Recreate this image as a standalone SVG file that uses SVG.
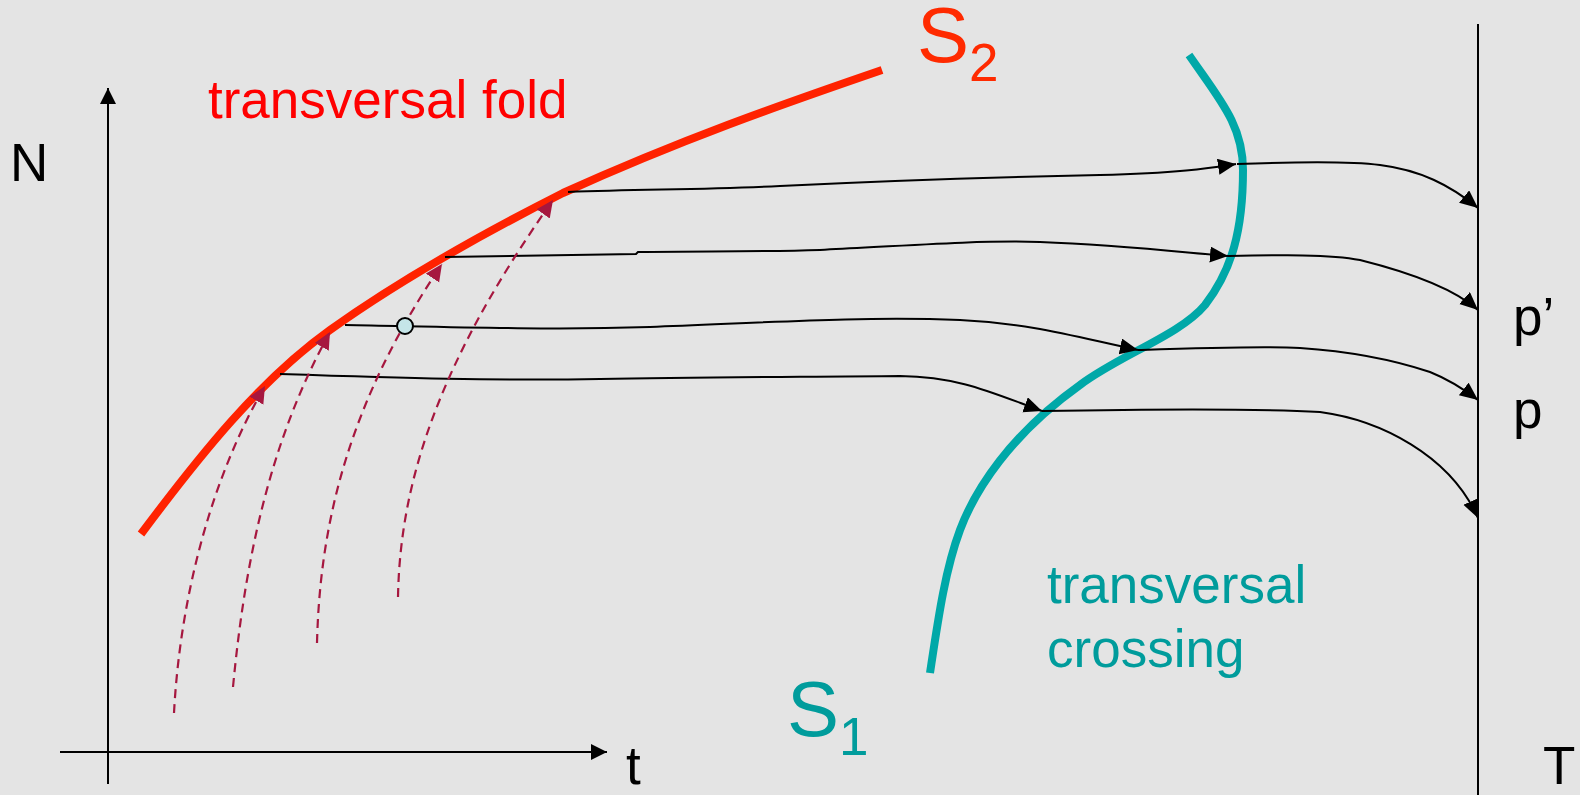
<svg xmlns="http://www.w3.org/2000/svg" width="1580" height="795" viewBox="0 0 1580 795">
<style>
.lbl{font-family:"Liberation Sans",Arial,sans-serif;font-size:53px}
.big{font-size:78px}
.sub{font-size:53px}
.blk{fill:#000}
.red{fill:#FF0000}
.s2{fill:#FF2A00}
.teal{fill:#009C9C}
.flow{fill:none;stroke:#000;stroke-width:2}
.dash{fill:none;stroke:#A6173F;stroke-width:2.2;stroke-dasharray:9 6}
.axis{fill:none;stroke:#000;stroke-width:2}
</style>
<defs>
<marker id="ah" markerUnits="userSpaceOnUse" markerWidth="20" markerHeight="18" refX="18" refY="8" orient="auto">
<path d="M0,0 L18,8 L0,16 Z" fill="#000"/>
</marker>
<marker id="axh" markerUnits="userSpaceOnUse" markerWidth="17" markerHeight="17" refX="16" refY="8" orient="auto">
<path d="M0,0 L16,8 L0,16 Z" fill="#000"/>
</marker>
<marker id="dh" markerUnits="userSpaceOnUse" markerWidth="19" markerHeight="18" refX="17" refY="8" orient="auto">
<path d="M0,0 L17,8 L0,16 Z" fill="#A6173F"/>
</marker>
</defs>
<rect width="1580" height="795" fill="#E4E4E4"/>

<g id="axes">
<line class="axis" x1="108" y1="784" x2="108" y2="88" marker-end="url(#axh)"/>
<line class="axis" x1="60" y1="752" x2="607" y2="752" marker-end="url(#axh)"/>
<line class="axis" x1="1478" y1="24" x2="1478" y2="795"/>
</g>

<g id="S2">
<path d="M141,534 C200,455 260,380 330,330 C400,280 480,235 563,193 C680,140 780,105 882,70" fill="none" stroke="#FF2200" stroke-width="8"/>
</g>

<g id="S1">
<path d="M1189,55 C1220,100 1243,125 1243,170 C1243,230 1232,270 1205,305 C1180,335 1120,355 1080,385 C1010,435 975,490 960,530 C945,570 938,620 930,673" fill="none" stroke="#00A8A8" stroke-width="8"/>
</g>

<g id="connectors">
<path class="flow" d="M568,192 C650,189 700,190 780,186 C900,180 1000,177 1100,175 C1180,173 1210,168 1236,164" marker-end="url(#ah)"/>
<path class="flow" d="M1237,164 C1290,162 1350,161 1380,165 C1420,170 1450,185 1478,208" marker-end="url(#ah)"/>
<path class="flow" d="M445,257 L636,254 L638,252 C700,251 760,252 820,250 C900,246 980,240 1040,242 C1120,245 1180,252 1228,256" marker-end="url(#ah)"/>
<path class="flow" d="M1228,256 C1280,255 1330,254 1360,260 C1400,270 1450,285 1478,310" marker-end="url(#ah)"/>
<path class="flow" d="M345,325 C500,328 560,330 650,327 C760,323 860,316 960,320 C1030,323 1080,338 1138,350" marker-end="url(#ah)"/>
<path class="flow" d="M1138,350 C1200,348 1260,346 1300,348 C1360,352 1400,362 1430,372 C1450,380 1465,390 1478,400" marker-end="url(#ah)"/>
<path class="flow" d="M280,374 C400,378 500,381 600,379 C700,377 800,377 900,376 C960,377 990,392 1042,411" marker-end="url(#ah)"/>
<path class="flow" d="M1042,411 C1150,409 1250,408 1320,412 C1380,420 1450,455 1478,518" marker-end="url(#ah)"/>
<path class="dash" d="M174,713 C180,600 210,480 265,386" marker-end="url(#dh)"/>
<path class="dash" d="M233,687 C245,560 270,440 330,332" marker-end="url(#dh)"/>
<path class="dash" d="M317,643 C320,520 350,400 442,264" marker-end="url(#dh)"/>
<path class="dash" d="M398,597 C400,480 440,360 553,200" marker-end="url(#dh)"/>
</g>

<g id="point">
<circle cx="405" cy="326" r="8" fill="#C5E5E8" stroke="#000" stroke-width="2"/>
</g>

<g id="labels">
<text class="lbl blk" x="10" y="181">N</text>
<text class="lbl red" x="208" y="118">transversal fold</text>
<text class="lbl big s2" x="917" y="62">S<tspan class="sub" dy="19">2</tspan></text>
<text class="lbl big teal" x="787" y="736">S<tspan class="sub" dy="19">1</tspan></text>
<text class="lbl teal" x="1047" y="603">transversal</text>
<text class="lbl teal" x="1047" y="667">crossing</text>
<text class="lbl blk" x="1513" y="335">p’</text>
<text class="lbl blk" x="1513" y="428">p</text>
<text class="lbl blk" x="626" y="784">t</text>
<text class="lbl blk" x="1543" y="784">T</text>
</g>
</svg>
